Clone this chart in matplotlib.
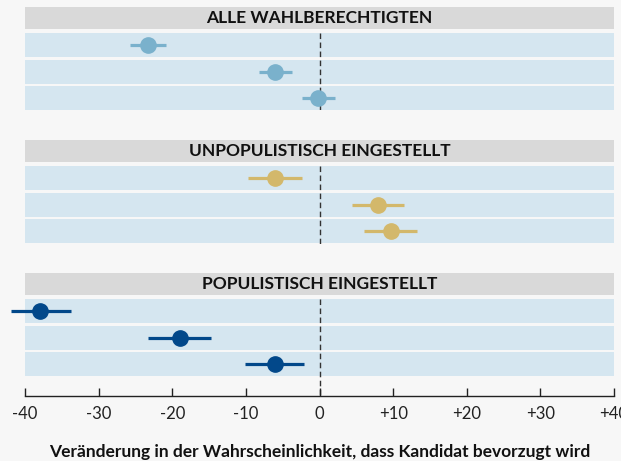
import matplotlib
matplotlib.use('Agg')
import matplotlib.pyplot as plt

plt.rcParams['font.family'] = ['Lato', 'DejaVu Sans']

# 데이터
panel_titles = ['ALLE WAHLBERECHTIGTEN', 'UNPOPULISTISCH EINGESTELLT', 'POPULISTISCH EINGESTELLT']

alle_est = [-23.3, -6.0, -0.2]
alle_lo = [-25.8, -8.2, -2.4]
alle_hi = [-20.9, -3.7, 2.1]

unpop_est = [-6.1, 7.9, 9.7]
unpop_lo = [-9.7, 4.4, 6.1]
unpop_hi = [-2.4, 11.5, 13.3]

pop_est = [-37.9, -19.0, -6.1]
pop_lo = [-41.9, -23.3, -10.1]
pop_hi = [-33.8, -14.7, -2.1]

tick_values = [-40, -30, -20, -10, 0, 10, 20, 30, 40]
tick_labels = ['-40', '-30', '-20', '-10', '0', '+10', '+20', '+30', '+40']
x_label = 'Veränderung in der Wahrscheinlichkeit, dass Kandidat bevorzugt wird'

# 색상
BG = '#f7f7f7'
HEADER = '#d9d9d9'
BAND = '#d5e6f0'
colors = ['#7ab1cc', '#d3b86b', '#02488a']

W, H = 621, 461
fig = plt.figure(figsize=(W / 100, H / 100), dpi=100, facecolor=BG)

series = [
    (alle_est, alle_lo, alle_hi),
    (unpop_est, unpop_lo, unpop_hi),
    (pop_est, pop_lo, pop_hi),
]

# 패널 위치 (픽셀: 위, 아래)
panel_px = [(7, 110.5), (140, 243.5), (273, 396)]
unit_px = 26.7
left_px, right_px = 25, 614

for i, (title, (est, lo, hi)) in enumerate(zip(panel_titles, series)):
    top, bottom = panel_px[i]
    ax = fig.add_axes([left_px / W, 1 - bottom / H,
                       (right_px - left_px) / W, (bottom - top) / H])
    ax.set_facecolor(BG)
    y_top = -1.42
    y_bottom = y_top + (bottom - top) / unit_px
    ax.set_xlim(-40, 40)
    ax.set_ylim(y_bottom, y_top)

    # 제목 바
    ax.axhspan(-1.42, -0.58, color=HEADER, lw=0, zorder=0)
    ax.text(0, -1.0, title, ha='center', va='center', fontsize=12.5,
            fontweight='bold', color='#111111')

    rows = list(range(len(est)))
    for r in rows:
        ax.axhspan(r - 0.45, r + 0.45, color=BAND, lw=0, zorder=0)

    # 0 기준선
    ax.vlines(0, -0.45, y_bottom, colors='#333333', linestyles=(0, (4, 2.5)),
              linewidth=1.0, zorder=1)

    ax.hlines(rows, lo, hi, colors=colors[i], linewidth=2.3, zorder=2, clip_on=False)
    ax.plot(est, rows, 'o', color=colors[i], markersize=11, zorder=3, clip_on=False)

    for side in ['top', 'left', 'right']:
        ax.spines[side].set_visible(False)
    ax.set_yticks([])

    if i < 2:
        ax.spines['bottom'].set_visible(False)
        ax.set_xticks([])
    else:
        ax.spines['bottom'].set_color('#222222')
        ax.spines['bottom'].set_linewidth(1.0)
        ax.set_xticks(tick_values)
        ax.set_xticklabels(tick_labels)
        ax.tick_params(axis='x', direction='in', length=5.8, width=1.0,
                       color='#222222', pad=7, labelsize=12, labelcolor='#222222')

fig.text(320 / W, 1 - 452 / H, x_label, ha='center', va='center',
         fontsize=12.5, fontweight='bold', color='#111111')

fig.savefig('out.png', dpi=100, facecolor=BG)
